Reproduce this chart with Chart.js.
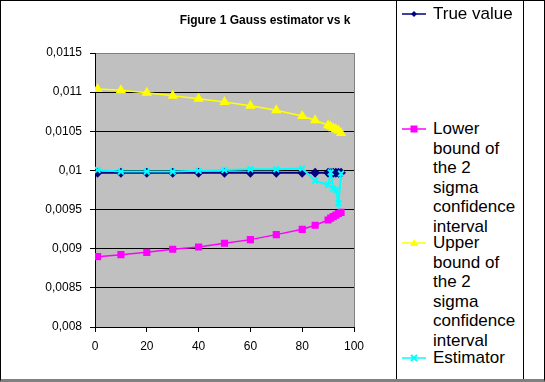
<!DOCTYPE html>
<html lang="en">
<head>
<meta charset="UTF-8">
<title>Figure 1 Gauss estimator vs k</title>
<script src="https://cdn.jsdelivr.net/npm/chart.js"></script>
<style>
    body { margin: 0; background: #fff; font-family: "Liberation Sans", Arial, sans-serif; }
    #frame { position: relative; width: 545px; height: 382px; overflow: hidden; background: #fff; }
    #border { position: absolute; left: 0; top: 0; right: 0; bottom: 0; box-sizing: border-box;
              border: 1px solid #000; border-bottom: 3px solid #808080; pointer-events: none; }
    #chart { position: absolute; left: 0; top: 0; }
    #title { position: absolute; left: 265px; top: 13px; transform: translateX(-50%);
             font-weight: bold; font-size: 12px; white-space: nowrap; color: #000; }
    #legend { position: absolute; left: 396px; top: 0; width: 128px; height: 382px; box-sizing: border-box;
              border-left: 1px solid #000; border-right: 1px solid #000; }
    .item { position: absolute; left: 0; width: 126px; font-size: 17px; line-height: 19.5px; color: #000; }
    .item svg { position: absolute; left: 5px; top: 4px; }
    .item span { position: absolute; left: 36px; width: 86px; }
</style>
</head>
<body>
<div id="frame">
    <canvas id="chart" width="396" height="380"></canvas>
    <div id="title">Figure 1 Gauss estimator vs k</div>
    <div id="legend"></div>
    <div id="border"></div>
</div>

<script>
    // values
    const kValues = [1, 10, 20, 30, 40, 50, 60, 70, 80, 85, 90, 91, 92, 93, 94, 95];
    const trueValue = [0.00997, 0.00997, 0.00997, 0.00997, 0.00997, 0.00997, 0.00997, 0.00997,
                       0.00997, 0.00997, 0.00997, 0.00997, 0.00997, 0.00997, 0.00997, 0.00997];
    const lowerBound = [0.008898, 0.008924, 0.008954, 0.008993, 0.009022, 0.00907, 0.009116, 0.00918,
                        0.009248, 0.0093, 0.009367, 0.00939, 0.00941, 0.00943, 0.00945, 0.009465];
    const upperBound = [0.01104, 0.011023, 0.010993, 0.010955, 0.010916, 0.010874, 0.010827, 0.010768,
                        0.010695, 0.01064, 0.010577, 0.01056, 0.01054, 0.010525, 0.01051, 0.010478];
    const estimator = [0.010005, 0.009985, 0.009985, 0.009985, 0.009995, 0.010005, 0.010015, 0.010015,
                       0.010025, 0.009868, 0.009814, 0.009976, 0.00977, 0.00975, 0.00958, 0.00996];
    const seriesNames = ["True value", "Lower bound of the 2 sigma confidence interval",
                         "Upper bound of the 2 sigma confidence interval", "Estimator"];
    const xTicks = [0, 20, 40, 60, 80, 100];
    const yTicks = [0.008, 0.0085, 0.009, 0.0095, 0.01, 0.0105, 0.011, 0.0115];

    const pts = vals => kValues.map((k, i) => ({ x: k, y: vals[i] }));
    const fmt = v => String(Number(v.toFixed(5))).replace(".", ",");

    // grey plot area like Excel
    const plotArea = {
        id: "plotArea",
        beforeDraw(chart) {
            const a = chart.chartArea, c = chart.ctx;
            c.save();
            c.fillStyle = "#c0c0c0";
            c.fillRect(a.left, a.top, a.right - a.left, a.bottom - a.top);
            c.restore();
        },
        beforeDatasetsDraw(chart) {
            const a = chart.chartArea, c = chart.ctx;
            c.save();
            c.strokeStyle = "#808080";
            c.lineWidth = 1;
            c.beginPath();
            c.moveTo(a.right + 0.5, a.top);
            c.lineTo(a.right + 0.5, a.bottom);
            c.stroke();
            c.restore();
        }
    };

    const ctx = document.getElementById("chart").getContext("2d");
    const chart = new Chart(ctx, {
        type: "line",
        data: {
            datasets: [
                {
                    label: seriesNames[0],
                    data: pts(trueValue),
                    borderColor: "#000080",
                    backgroundColor: "#000080",
                    borderWidth: 2,
                    pointStyle: "rectRot",
                    pointRadius: 3.5,
                    order: 3
                },
                {
                    label: seriesNames[1],
                    data: pts(lowerBound),
                    borderColor: "#ff00ff",
                    backgroundColor: "#ff00ff",
                    borderWidth: 1.5,
                    pointStyle: "rect",
                    pointRadius: 4,
                    order: 2
                },
                {
                    label: seriesNames[2],
                    data: pts(upperBound),
                    borderColor: "#ffff00",
                    backgroundColor: "#ffff00",
                    borderWidth: 1.5,
                    pointStyle: "triangle",
                    pointRadius: 4.5,
                    order: 1
                },
                {
                    label: seriesNames[3],
                    data: pts(estimator),
                    borderColor: "#00ffff",
                    backgroundColor: "#00ffff",
                    borderWidth: 2,
                    pointStyle: "crossRot",
                    pointRadius: 4,
                    pointBorderWidth: 2,
                    order: 0
                }
            ]
        },
        options: {
            responsive: false,
            animation: false,
            layout: { padding: { top: 53, right: 42, left: 0, bottom: 0 } },
            plugins: { legend: { display: false }, tooltip: { enabled: false } },
            elements: { line: { tension: 0 } },
            scales: {
                x: {
                    type: "linear",
                    min: 0, max: 100,
                    afterFit: s => { s.height = 53; },
                    afterBuildTicks: s => { s.ticks = xTicks.map(v => ({ value: v })); },
                    grid: { drawOnChartArea: false, tickLength: 5, color: "#000" },
                    border: { color: "#000", width: 1 },
                    ticks: { color: "#000", padding: 7, maxRotation: 0,
                             font: { family: "Liberation Sans", size: 12 } }
                },
                y: {
                    min: 0.008, max: 0.0115,
                    afterFit: s => { s.width = 95; },
                    afterBuildTicks: s => { s.ticks = yTicks.map(v => ({ value: v })); },
                    grid: {
                        tickLength: 5,
                        tickColor: "#000",
                        color: c => (c.index === yTicks.length - 1 ? "#808080" : "#000")
                    },
                    border: { color: "#000", width: 1 },
                    ticks: { color: "#000", padding: 8, callback: v => fmt(v),
                             font: { family: "Liberation Sans", size: 12 } }
                }
            }
        },
        plugins: [plotArea]
    });

    // legend drawn as html so the long labels wrap like the original
    function marker(ds) {
        const c = ds.borderColor;
        let m = "";
        if (ds.pointStyle === "rectRot") m = `<polygon points="12,3 15,6 12,9 9,6" fill="${c}"/>`;
        if (ds.pointStyle === "rect") m = `<rect x="8.5" y="2.5" width="7" height="7" fill="${c}"/>`;
        if (ds.pointStyle === "triangle") m = `<polygon points="12,2 16,9 8,9" fill="${c}"/>`;
        if (ds.pointStyle === "crossRot") m = `<path d="M9,3 L15,9 M15,3 L9,9" stroke="${c}" stroke-width="2"/>`;
        return `<svg width="24" height="12"><line x1="0" y1="6" x2="24" y2="6" stroke="${c}" stroke-width="1.5"/>${m}</svg>`;
    }
    const legendTops = [4, 119, 233, 348];
    document.getElementById("legend").innerHTML = chart.data.datasets.map((ds, i) =>
        `<div class="item" style="top:${legendTops[i]}px">${marker(ds)}<span>${ds.label}</span></div>`
    ).join("");
</script>
</body>
</html>
